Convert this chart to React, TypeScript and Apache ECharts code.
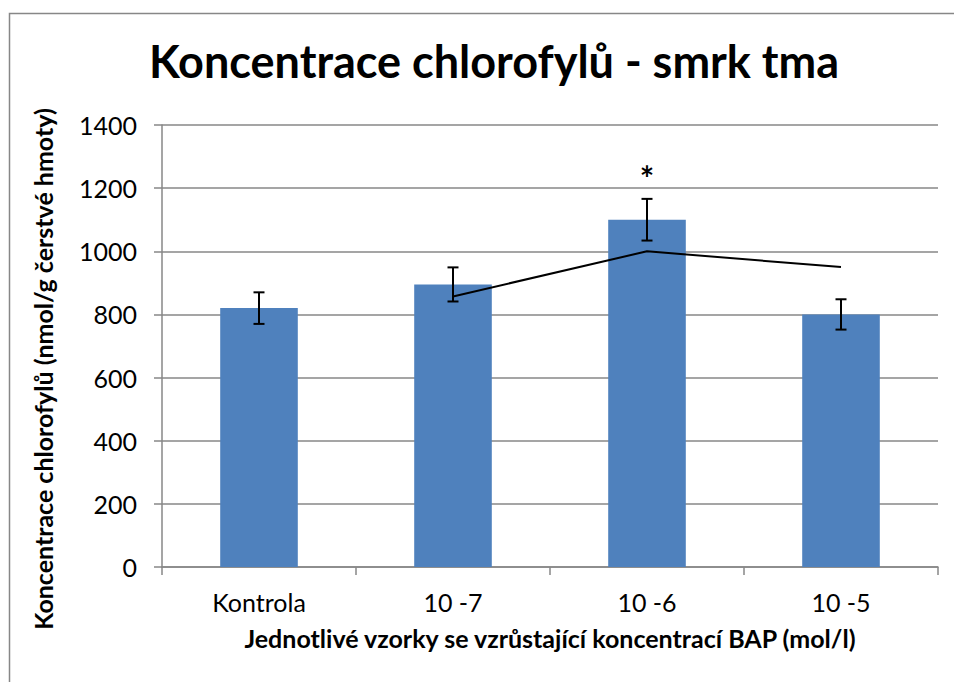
import React, { useEffect, useRef } from "react";
import * as echarts from "echarts";

const categories = ["Kontrola", "10 -7", "10 -6", "10 -5"];
const barValues = [820, 895, 1100, 800];
const errorValues = [50, 54, 66, 48];
const trendValues: (number | null)[] = [null, 857, 1000, 950];
const significance = ["", "", "*", ""];
const yTicks = { min: 0, max: 1400, interval: 200 };

const FONT = "Lato, 'Open Sans', sans-serif";

export default function App() {
  const ref = useRef<HTMLDivElement>(null);
  useEffect(() => {
    if (!ref.current) return;
    const chart = echarts.init(ref.current, undefined, { renderer: "svg" });
    const errData = categories.map((_, i) => [i, barValues[i], errorValues[i]]);
    chart.setOption({
      animation: false,
      backgroundColor: "#ffffff",
      textStyle: { fontFamily: FONT },
      title: {
        text: "Koncentrace chlorofylů - smrk tma",
        left: 489,
        top: 33,
        textAlign: "center",
        textStyle: { fontFamily: FONT, fontWeight: "bold", fontSize: 45, color: "#000" },
      },
      graphic: [
        {
          type: "rect",
          shape: { x: 9.5, y: 13.5, width: 1000, height: 1000 },
          style: { fill: "none", stroke: "#878787", lineWidth: 1.5 },
          silent: true,
          z: -10,
        },
        {
          type: "text",
          x: 43,
          y: 369,
          rotation: Math.PI / 2,
          style: {
            text: "Koncentrace chlorofylů (nmol/g čerstvé hmoty)",
            fontFamily: FONT,
            fontWeight: "bold",
            fontSize: 25,
            fill: "#000",
            align: "center",
            verticalAlign: "middle",
          },
        },
      ],
      grid: { left: 162, right: 16, top: 125, bottom: 115, containLabel: false },
      xAxis: {
        type: "category",
        data: categories,
        boundaryGap: true,
        name: "Jednotlivé vzorky se vzrůstající koncentrací BAP (mol/l)",
        nameLocation: "middle",
        nameGap: 58,
        nameTextStyle: { fontFamily: FONT, fontWeight: "bold", fontSize: 25, color: "#000" },
        axisLine: { show: true, lineStyle: { color: "#878787", width: 1.5 } },
        axisTick: { show: true, length: 8, lineStyle: { color: "#878787", width: 1.5 } },
        axisLabel: { margin: 22, fontFamily: FONT, fontSize: 25, color: "#000" },
      },
      yAxis: {
        type: "value",
        min: yTicks.min,
        max: yTicks.max,
        interval: yTicks.interval,
        axisLine: { show: true, lineStyle: { color: "#878787", width: 1.5 } },
        axisTick: { show: true, length: 8, lineStyle: { color: "#878787", width: 1.5 } },
        axisLabel: {
          margin: 25,
          fontFamily: FONT,
          fontSize: 25,
          color: "#000",
          formatter: (v: number) => String(v),
        },
        splitLine: { show: true, lineStyle: { color: "#878787", width: 1.5 } },
      },
      series: [
        {
          type: "bar",
          data: barValues,
          barWidth: "40%",
          itemStyle: { color: "#4F81BD" },
          z: 2,
        },
        {
          type: "line",
          data: trendValues,
          showSymbol: false,
          symbol: "none",
          connectNulls: false,
          lineStyle: { color: "#000", width: 2 },
          z: 4,
        },
        {
          type: "custom",
          data: errData,
          z: 5,
          renderItem: (params: any, api: any) => {
            const i = api.value(0);
            const v = api.value(1);
            const e = api.value(2);
            const star = significance[params.dataIndex];
            const top = api.coord([i, v + e]);
            const bot = api.coord([i, v - e]);
            const hw = 5.5;
            const style = { stroke: "#000", lineWidth: 2 };
            const children: any[] = [
              { type: "line", shape: { x1: top[0], y1: top[1], x2: bot[0], y2: bot[1] }, style },
              { type: "line", shape: { x1: top[0] - hw, y1: top[1], x2: top[0] + hw, y2: top[1] }, style },
              { type: "line", shape: { x1: bot[0] - hw, y1: bot[1], x2: bot[0] + hw, y2: bot[1] }, style },
            ];
            if (star) {
              children.push({
                type: "text",
                x: top[0],
                y: top[1] - 21,
                style: {
                  text: star,
                  fontFamily: FONT,
                  fontWeight: "bold",
                  fontSize: 34,
                  fill: "#000",
                  align: "center",
                  verticalAlign: "middle",
                },
              });
            }
            return { type: "group", children };
          },
        },
      ],
    });
    return () => chart.dispose();
  }, []);
  return (
    <div
      ref={ref}
      style={{ position: "fixed", left: 0, top: 0, width: 954, height: 682, background: "#fff" }}
    />
  );
}
